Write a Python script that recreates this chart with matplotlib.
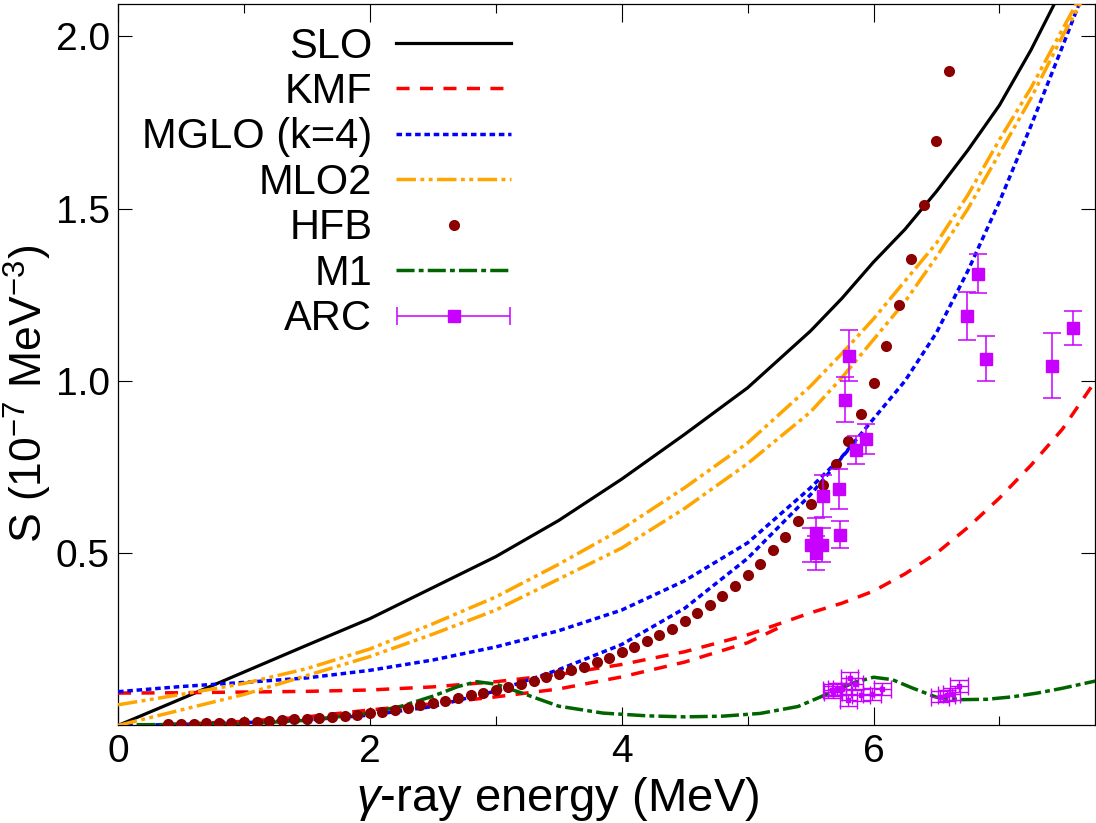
import numpy as np
import matplotlib
matplotlib.use("Agg")
import matplotlib.pyplot as plt
from matplotlib.legend_handler import HandlerErrorbar

plt.rcParams['font.family'] = ['Liberation Sans', 'DejaVu Sans']
plt.rcParams['mathtext.fontset'] = 'custom'
plt.rcParams['mathtext.rm'] = 'Liberation Sans'
plt.rcParams['mathtext.it'] = 'Liberation Sans:italic'
plt.rcParams['lines.scale_dashes'] = False

# gamma-ray energy grid (MeV) for the model curves
energy = [0, 0.5, 1, 1.5, 2, 2.5, 3, 3.5, 4, 4.5, 5, 5.5, 5.75, 6, 6.25,
          6.5, 6.75, 7, 7.25, 7.5, 7.8]

slo = [0, 0.077, 0.155, 0.233, 0.31, 0.40, 0.49, 0.595, 0.715, 0.845, 0.98,
       1.145, 1.24, 1.345, 1.44, 1.55, 1.67, 1.80, 1.96, 2.14, 2.36]

kmf_a = [0.094, 0.095, 0.097, 0.099, 0.103, 0.112, 0.127, 0.148, 0.177, 0.214,
         0.263, 0.327, 0.355, 0.39, 0.44, 0.50, 0.575, 0.66, 0.755, 0.86, 1.02]
kmf_b_e = [0, 0.5, 1, 1.5, 2, 2.5, 3, 3.5, 4, 4.5, 5, 5.3]
kmf_b = [0.0, 0.004, 0.012, 0.025, 0.045, 0.063, 0.083, 0.106, 0.141, 0.184,
         0.240, 0.293]

mglo_a = [0.098, 0.113, 0.125, 0.138, 0.16, 0.19, 0.228, 0.275, 0.335, 0.42,
          0.53, 0.69, 0.78, 0.89, 1.00, 1.14, 1.32, 1.52, 1.74, 1.97, 2.25]
mglo_b_e = [0, 0.5, 1, 1.5, 2, 2.5, 3, 3.5, 4, 4.5, 5, 5.5, 5.8]
mglo_b = [0.0, 0.003, 0.008, 0.016, 0.03, 0.055, 0.10, 0.162, 0.235, 0.34,
          0.485, 0.67, 0.80]

mlo2_a = [0.06, 0.09, 0.122, 0.165, 0.222, 0.295, 0.373, 0.468, 0.57, 0.69,
          0.82, 0.985, 1.08, 1.18, 1.29, 1.40, 1.54, 1.70, 1.85, 2.02, 2.22]
mlo2_b = [0.0, 0.045, 0.09, 0.145, 0.20, 0.265, 0.335, 0.425, 0.515, 0.63,
          0.76, 0.91, 1.01, 1.12, 1.23, 1.36, 1.50, 1.66, 1.82, 2.00, 2.20]

hfb_e = [round(0.4 + 0.1 * i, 1) for i in range(63)]
hfb = [0.003, 0.004, 0.005, 0.006, 0.007, 0.008, 0.010, 0.011, 0.013, 0.015,
       0.018, 0.020, 0.022, 0.024, 0.027, 0.031, 0.035, 0.040, 0.045, 0.051,
       0.058, 0.065, 0.072, 0.080, 0.087, 0.095, 0.103, 0.112, 0.121, 0.130,
       0.140, 0.150, 0.160, 0.171, 0.184, 0.197, 0.212, 0.227, 0.244, 0.262,
       0.281, 0.302, 0.325, 0.350, 0.377, 0.405, 0.437, 0.470, 0.508, 0.548,
       0.594, 0.643, 0.698, 0.758, 0.827, 0.905, 0.995, 1.10, 1.22, 1.355,
       1.51, 1.695, 1.90]

m1_e = [0.15, 0.5, 1.0, 1.5, 2.0, 2.25, 2.5, 2.7, 2.85, 3.0, 3.2, 3.5, 3.85,
        4.2, 4.5, 4.8, 5.1, 5.4, 5.65, 5.85, 6.0, 6.15, 6.3, 6.5, 6.7, 6.9,
        7.1, 7.3, 7.5, 7.8]
m1 = [0.002, 0.003, 0.005, 0.015, 0.036, 0.056, 0.085, 0.113, 0.127, 0.12,
      0.095, 0.056, 0.036, 0.028, 0.025, 0.027, 0.035, 0.055, 0.094, 0.125,
      0.14, 0.133, 0.11, 0.082, 0.075, 0.076, 0.083, 0.094, 0.108, 0.132]

# ARC data, E1 (large symbols)
arc_e = [5.50, 5.545, 5.59, 5.545, 5.60, 5.727, 5.73, 5.77, 5.806, 5.862,
         5.941, 6.74, 6.83, 6.894, 7.416, 7.583]
arc_s = [0.524, 0.558, 0.524, 0.50, 0.666, 0.686, 0.553, 0.945, 1.073, 0.80,
         0.831, 1.189, 1.311, 1.064, 1.044, 1.153]
arc_err = [0.05, 0.045, 0.05, 0.05, 0.06, 0.057, 0.039, 0.065, 0.074, 0.04,
           0.043, 0.07, 0.057, 0.065, 0.094, 0.05]

# ARC data, M1 (small symbols)
arc_m1_e = [5.67, 5.71, 5.75, 5.81, 5.85, 5.80, 5.90, 5.99, 6.07, 5.68,
            6.53, 6.58, 6.62, 6.68]
arc_m1_s = [0.103, 0.105, 0.105, 0.137, 0.12, 0.074, 0.088, 0.091, 0.105,
            0.098, 0.084, 0.087, 0.092, 0.115]
arc_m1_xerr = 0.07
arc_m1_yerr = 0.017

fig = plt.figure(figsize=(10.96, 8.23), dpi=100)
ax = fig.add_axes([0.1077, 0.1185, 0.8915, 0.8771])

lw = 2.5
kmf_d = (9.4, 7.5)
mglo_d = (4.0, 2.7)
mlo2_d = (14, 3.2, 2.8, 3.2, 2.8, 3.2)
m1_d = (13, 3, 3.5, 3)

ax.plot(energy, slo, color='black', lw=2.3, label='SLO', zorder=3)
ax.plot(energy, kmf_a, color='#ff0000', lw=lw, dashes=kmf_d, label='KMF', zorder=3)
ax.plot(kmf_b_e, kmf_b, color='#ff0000', lw=lw, dashes=kmf_d, zorder=3)
ax.plot(energy, mglo_a, color='#0000ff', lw=lw, dashes=mglo_d, label='MGLO (k=4)', zorder=3)
ax.plot(mglo_b_e, mglo_b, color='#0000ff', lw=lw, dashes=mglo_d, zorder=3)
ax.plot(energy, mlo2_a, color='#ffa500', lw=lw, dashes=mlo2_d, label='MLO2', zorder=3)
ax.plot(energy, mlo2_b, color='#ffa500', lw=lw, dashes=mlo2_d, zorder=3)
ax.plot(hfb_e, hfb, 'o', color='#8b0000', ms=8, mew=0, label='HFB', zorder=4)
ax.plot(m1_e, m1, color='#006400', lw=lw, dashes=m1_d, label='M1', zorder=3)

arc_col = '#c800ff'
ax.errorbar(arc_e, arc_s, yerr=arc_err, fmt='s', color=arc_col, ms=8.5,
            ecolor=arc_col, elinewidth=1.1, capsize=6.8, capthick=1.1, zorder=5)
ax.errorbar(arc_m1_e, arc_m1_s, xerr=arc_m1_xerr, yerr=arc_m1_yerr, fmt='s',
            color=arc_col, ms=2.5, ecolor=arc_col, elinewidth=1.0,
            capsize=6.5, capthick=1.0, zorder=5)
arc_leg = ax.errorbar([np.nan], [np.nan], xerr=[0.1], fmt='s', color=arc_col,
                      ms=8.5, ecolor=arc_col, elinewidth=1.1, capsize=6.8,
                      capthick=1.1, label='ARC')

ax.set_xlim(0, 7.76)
ax.set_ylim(0, 2.095)
ax.set_xticks([0, 2, 4, 6])
ax.set_xticks([1, 3, 5, 7], minor=True)
ax.set_yticks([0.5, 1.0, 1.5, 2.0])
ax.set_yticklabels(['0.5', '1.0', '1.5', '2.0'])
ax.tick_params(axis='both', which='both', direction='in', top=True, right=True,
               width=0.8, labelsize=28)
ax.tick_params(axis='x', which='major', length=13, pad=6)
ax.tick_params(axis='x', which='minor', length=6.5)
ax.tick_params(axis='y', which='major', length=10, pad=6)
for sp in ax.spines.values():
    sp.set_linewidth(0.9)

ax.set_xlabel(r'$\gamma$-ray energy (MeV)', fontsize=34)
ax.xaxis.set_label_coords(0.45, -0.069)
ax.set_ylabel(r'S (10$^{-7}$ MeV$^{-3}$)', fontsize=32)
ax.yaxis.set_label_coords(-0.066, 0.46)

ax.legend(loc='upper right', bbox_to_anchor=(0.4235, 0.997), frameon=False,
          markerfirst=False, fontsize=30, handlelength=2.76,
          handletextpad=0.57, labelspacing=0.13, borderpad=0, numpoints=1,
          handler_map={type(arc_leg): HandlerErrorbar(xerr_size=1.36)})

fig.savefig('out.png', dpi=100)
